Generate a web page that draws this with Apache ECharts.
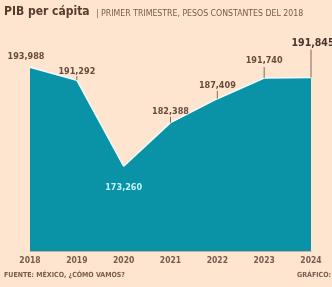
<!DOCTYPE html>
<html><head><meta charset="utf-8">
<script src="https://cdn.jsdelivr.net/npm/echarts@6/dist/echarts.min.js"></script>
<style>html,body{margin:0;padding:0;background:#fde5d0;}#c{width:332px;height:287px;}</style>
</head><body><div id="c"></div>
<script>
const years = ['2018','2019','2020','2021','2022','2023','2024'];
const values = [193988, 191292, 173260, 182388, 187409, 191740, 191845];
const titleMain = 'PIB per cápita';
const titleSub = '| PRIMER TRIMESTRE, PESOS CONSTANTES DEL 2018';
const sourceText = 'FUENTE: MÉXICO, ¿CÓMO VAMOS?';
const creditText = 'GRÁFICO: EL ECONOMISTA';

const FONT = "'DejaVu Sans Condensed','Liberation Sans Narrow',sans-serif";
const brown = '#6a4a3c';
// label offsets above the point (pixels) and leader lengths – styling only
const labelDist = [6, 4, 16, 6, 8, 12, 28];
const leaderLen = [0, 4, 0, 6, 8, 11, 28];

const fmt = v => v.toLocaleString('en-US');
const lineData = values.map((v, i) => {
  const last = i === values.length - 1;
  const low = i === 2;
  return {
    value: v,
    label: {
      show: true,
      position: low ? 'bottom' : 'top',
      distance: labelDist[i],
      formatter: p => fmt(p.value),
      color: low ? '#c8f3f6' : (last ? '#4a3329' : brown),
      fontSize: last ? 10.5 : 9,
      fontWeight: 'bold',
      fontFamily: FONT,
      offset: i === 0 ? [-4, 0] : (last ? [2, 0] : [0, 0])
    }
  };
});
const leaderData = values.map((v, i) => ({
  value: v,
  symbolSize: [1, leaderLen[i]],
  symbolOffset: [0, -leaderLen[i] / 2]
}));

const chart = echarts.init(document.getElementById('c'), null, {renderer: 'canvas'});
chart.setOption({
  backgroundColor: '#fde5d0',
  animation: false,
  title: [
    {text: titleMain, left: 4, top: 6, padding: 0, textStyle: {fontFamily: FONT, fontWeight: 'bold', fontSize: 12, color: '#5a3a2e'}},
    {text: titleSub, left: 96, top: 9, padding: 0, textStyle: {fontFamily: FONT, fontWeight: 'normal', fontSize: 8.7, color: '#7a5a4c'}},
    {text: sourceText, left: 4, top: 272, padding: 0, textStyle: {fontFamily: FONT, fontWeight: 'bold', fontSize: 7, color: '#7a5a4c'}},
    {text: creditText, left: 297, top: 272, padding: 0, textStyle: {fontFamily: FONT, fontWeight: 'bold', fontSize: 7, color: '#7a5a4c'}}
  ],
  grid: {left: 30, right: 21, top: 41, bottom: 36},
  xAxis: {
    type: 'category', data: years, boundaryGap: false,
    axisLine: {show: true, lineStyle: {color: '#c9b0a0', width: 1}},
    axisTick: {show: false},
    axisLabel: {color: '#7a5a4c', fontFamily: FONT, fontWeight: 'bold', fontSize: 8.5, margin: 5, interval: 0}
  },
  yAxis: {type: 'value', min: 155500, max: 199500, show: false, splitLine: {show: false}},
  series: [
    {
      type: 'line', data: lineData, symbol: 'circle', symbolSize: 1, showSymbol: true,
      itemStyle: {color: 'rgba(0,0,0,0)'},
      lineStyle: {color: '#f4fbfb', width: 1.5},
      areaStyle: {color: '#0a92a6', opacity: 1},
      z: 2
    },
    {
      type: 'scatter', data: leaderData, symbol: 'rect',
      itemStyle: {color: '#6a4a3c'}, z: 3, silent: true
    }
  ]
});
</script></body></html>
